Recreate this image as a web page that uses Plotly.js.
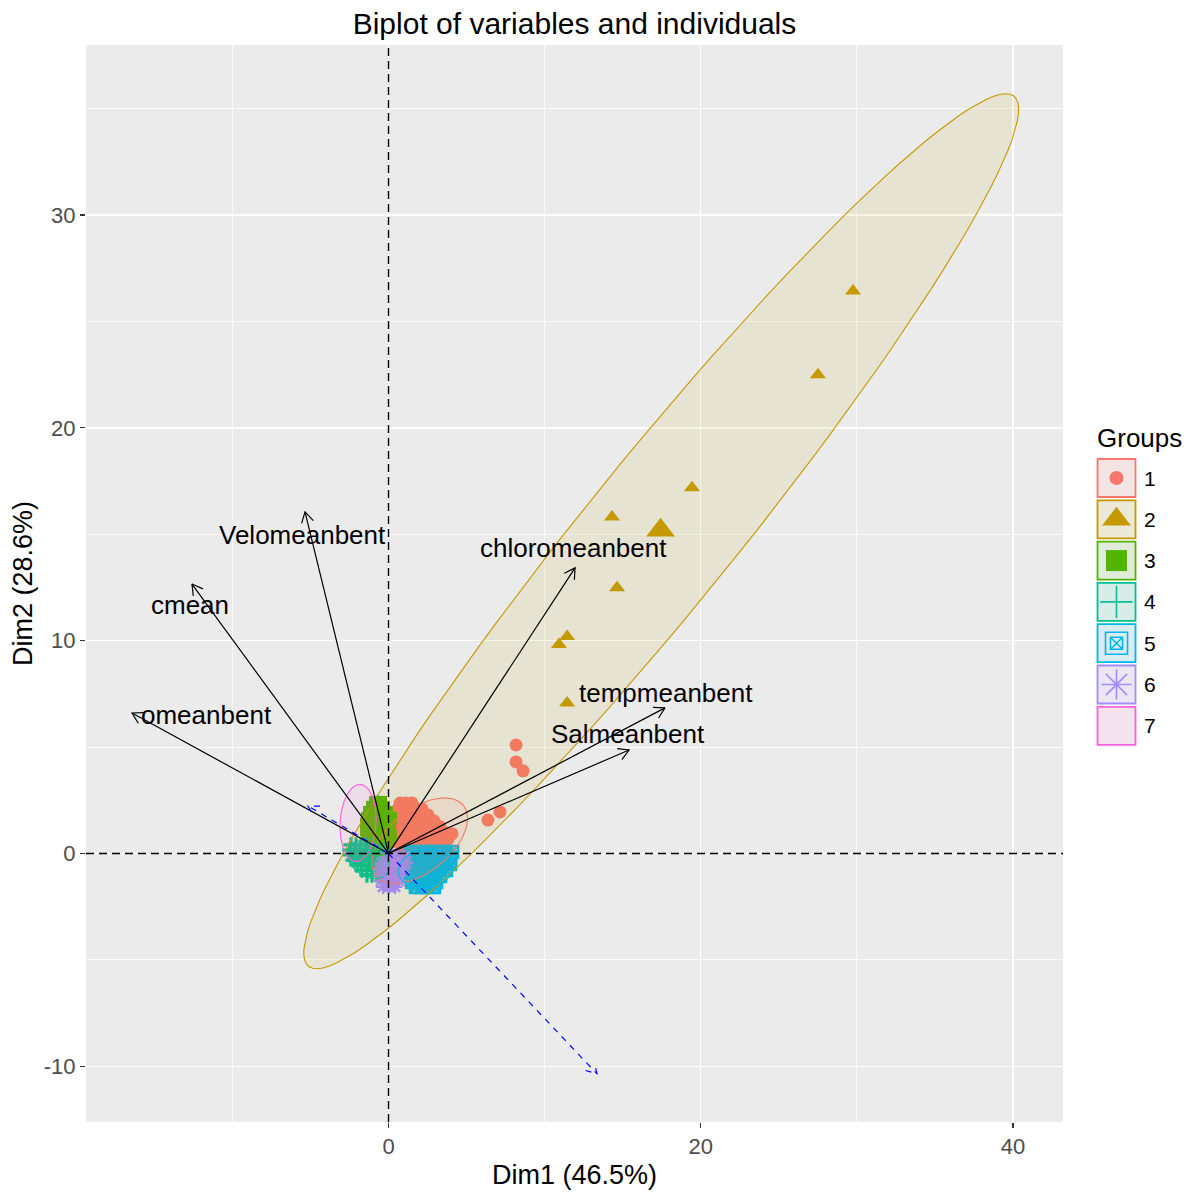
<!DOCTYPE html>
<html>
<head>
<meta charset="utf-8">
<script src="https://cdn.plot.ly/plotly-3.0.1.min.js"></script>
<style>html,body{margin:0;padding:0;background:#ffffff;}</style>
</head>
<body>
<div id="chart" style="width:1192px;height:1196px;"></div>
<script>
// ---- Groups ----
const groups = ['1', '2', '3', '4', '5', '6', '7'];
const groupColors = ['#F8766D', '#C49A00', '#53B400', '#00C094', '#00B6EB', '#A58AFF', '#FB61D7'];

// ---- Individuals (Dim1, Dim2) by group ----
const g1x = [0.74, 1.12, 1.51,
  0.61, 0.99, 1.38, 1.76, 2.15,
  0.61, 0.99, 1.38, 1.76, 2.15, 2.53,
  0.61, 0.99, 1.38, 1.76, 2.15, 2.53, 2.91,
  0.61, 0.99, 1.38, 1.76, 2.15, 2.53, 2.91, 3.30,
  0.61, 0.99, 1.38, 1.76, 2.15, 2.53, 2.91, 3.30, 3.68, 4.07,
  0.74, 1.12, 1.51, 1.89, 2.27, 2.66, 3.04, 3.43, 3.82,
  0.74, 1.12, 1.51, 1.89, 2.27, 2.66,
  0.86, 1.25, 1.63, 2.02,
  6.37, 7.14, 8.17, 8.17, 8.62];
const g1y = [2.37, 2.37, 2.37,
  2.09, 2.09, 2.09, 2.09, 2.09,
  1.81, 1.81, 1.81, 1.81, 1.81, 1.81,
  1.53, 1.53, 1.53, 1.53, 1.53, 1.53, 1.53,
  1.25, 1.25, 1.25, 1.25, 1.25, 1.25, 1.25, 1.25,
  0.96, 0.96, 0.96, 0.96, 0.96, 0.96, 0.96, 0.96, 0.96, 0.92,
  0.68, 0.68, 0.68, 0.68, 0.68, 0.68, 0.68, 0.68, 0.68,
  0.40, 0.40, 0.40, 0.40, 0.40, 0.40,
  0.16, 0.16, 0.16, 0.16,
  1.57, 1.95, 5.10, 4.30, 3.88];

const g2x = [29.76, 27.51, 19.44, 14.32, 14.64, 11.44, 10.92, 11.44];
const g2y = [26.43, 22.49, 17.18, 15.81, 12.48, 10.20, 9.82, 7.07];

const g3x = [-0.86, -0.48,
  -1.06, -0.67, -0.29,
  -1.25, -0.86, -0.48, -0.10,
  -1.38, -0.99, -0.61, -0.22, 0.16,
  -1.44, -1.06, -0.67, -0.29, 0.10,
  -1.44, -1.06, -0.67, -0.29, 0.10,
  -1.38, -0.99, -0.61, -0.22, 0.16,
  -1.19, -0.80, -0.42, -0.03,
  -0.93, -0.54, -0.16];
const g3y = [2.42, 2.42,
  2.19, 2.19, 2.19,
  1.95, 1.95, 1.95, 1.95,
  1.67, 1.67, 1.67, 1.67, 1.67,
  1.39, 1.39, 1.39, 1.39, 1.39,
  1.10, 1.10, 1.10, 1.10, 1.10,
  0.82, 0.82, 0.82, 0.82, 0.82,
  0.54, 0.54, 0.54, 0.54,
  0.31, 0.31, 0.31];

const g4x = [-2.40, -2.08, -1.76, -1.44, -1.12,
  -2.47, -2.15, -1.83, -1.51, -1.19, -0.86, -0.54, -0.22,
  -2.47, -2.15, -1.83, -1.51, -1.19, -0.86, -0.54, -0.22,
  -2.27, -1.95, -1.63, -1.31, -0.99, -0.67, -0.35,
  -2.02, -1.70, -1.38, -1.06, -0.74, -0.42,
  -1.70, -1.38, -1.06, -0.74, -0.42,
  -1.38, -1.06, -0.74, -0.42];
const g4y = [0.40, 0.40, 0.40, 0.40, 0.40,
  0.16, 0.16, 0.16, 0.16, 0.16, 0.16, 0.16, 0.16,
  -0.07, -0.07, -0.07, -0.07, -0.07, -0.07, -0.07, -0.07,
  -0.31, -0.31, -0.31, -0.31, -0.31, -0.31, -0.31,
  -0.54, -0.54, -0.54, -0.54, -0.54, -0.54,
  -0.78, -0.78, -0.78, -0.78, -0.78,
  -1.01, -1.01, -1.01, -1.01];

const g5x = [1.38, 1.76, 2.15, 2.53, 2.91, 3.30, 3.68, 4.07,
  1.25, 1.63, 2.02, 2.40, 2.79, 3.17, 3.56, 3.94,
  1.25, 1.63, 2.02, 2.40, 2.79, 3.17, 3.56, 3.94,
  1.38, 1.76, 2.15, 2.53, 2.91, 3.30, 3.68,
  1.38, 1.76, 2.15, 2.53, 2.91, 3.30,
  1.51, 1.89, 2.27, 2.66, 3.04,
  1.76, 2.15, 2.53, 2.91];
const g5y = [0.07, 0.07, 0.07, 0.07, 0.07, 0.07, 0.07, 0.07,
  -0.21, -0.21, -0.21, -0.21, -0.21, -0.21, -0.21, -0.21,
  -0.49, -0.49, -0.49, -0.49, -0.49, -0.49, -0.49, -0.49,
  -0.78, -0.78, -0.78, -0.78, -0.78, -0.78, -0.78,
  -1.06, -1.06, -1.06, -1.06, -1.06, -1.06,
  -1.34, -1.34, -1.34, -1.34, -1.34,
  -1.57, -1.57, -1.57, -1.57];

const g6x = [-0.16, 0.22, 0.61, 0.99,
  -0.42, -0.03, 0.35, 0.74, 1.12,
  -0.54, -0.16, 0.22, 0.61, 0.99,
  -0.54, -0.16, 0.22, 0.61,
  -0.48, -0.10, 0.29, 0.68,
  -0.35, 0.03, 0.42];
const g6y = [-0.16, -0.16, -0.16, -0.16,
  -0.45, -0.45, -0.45, -0.45, -0.45,
  -0.73, -0.73, -0.73, -0.73, -0.73,
  -1.01, -1.01, -1.01, -1.01,
  -1.29, -1.29, -1.29, -1.29,
  -1.57, -1.57, -1.57];

// Group mean points
const meanX = [1.60, 17.43, -0.70, -1.30, 2.40, 0.25];
const meanY = [1.10, 15.19, 1.30, -0.30, -0.60, -0.80];

// ---- Variables (arrow tips) ----
const varNames = ['omeanbent', 'cmean', 'Velomeanbent', 'chloromeanbent', 'tempmeanbent', 'Salmeanbent'];
const varX = [-16.43, -12.59, -5.35, 11.95, 17.71, 15.41];
const varY = [6.60, 12.66, 16.05, 13.42, 6.84, 4.86];
const labelX = [-11.69, -12.72, -5.54, 11.82, 17.78, 15.34];
const labelY = [6.51, 11.68, 14.97, 14.36, 7.54, 5.62];

// Supplementary variables
const supX = [13.36, -5.16];
const supY = [-10.36, 2.23];

// ---- Confidence ellipses: centre, semi-axes, rotation (deg) ----
const ellCX = [2.00, 17.47, -0.60, -1.30, 2.40, 0.30, -1.95];
const ellCY = [0.60, 15.14, 1.30, -0.30, -0.70, -0.80, 1.43];
const ellA = [3.30, 30.50, 1.40, 1.40, 1.80, 1.00, 1.82];
const ellB = [1.60, 4.10, 0.70, 0.80, 0.90, 0.60, 1.15];
const ellAng = [25, 41.8, 95, -20, 5, 90, 84];

// ---- Axis ticks ----
const xTickVals = [0, 20, 40];
const xTickText = ['0', '20', '40'];
const yTickVals = [-10, 0, 10, 20, 30];
const yTickText = ['-10', '0', '10', '20', '30'];

// ---- Layout geometry ----
const W = 1192, H = 1196;
const mL = 86, mR = 8, mT = 45, mB = 74;
const panelRight = 1063;
const paperW = W - mL - mR;
const paperH = H - mT - mB;
const mainDom = (panelRight - mL) / paperW;
const xRange = [-19.38, 43.21];
const yRange = [-12.62, 37.99];
const sx = (panelRight - mL) / (xRange[1] - xRange[0]);
const sy = paperH / (yRange[1] - yRange[0]);
const FONT = 'Liberation Sans, Arial, sans-serif';

function rgba(hex, a) {
  const n = parseInt(hex.slice(1), 16);
  return `rgba(${(n >> 16) & 255},${(n >> 8) & 255},${n & 255},${a})`;
}

function ellipse(cx, cy, a, b, deg) {
  const t = deg * Math.PI / 180, xs = [], ys = [];
  for (let i = 0; i <= 120; i++) {
    const u = 2 * Math.PI * i / 120;
    const ca = a * Math.cos(u), sb = b * Math.sin(u);
    xs.push(cx + ca * Math.cos(t) - sb * Math.sin(t));
    ys.push(cy + ca * Math.sin(t) + sb * Math.cos(t));
  }
  return [xs, ys];
}

// Open arrowhead drawn in screen space, converted back to data units
function arrow(tx, ty, color, dash, width) {
  const px = tx * sx, py = ty * sy;
  const len = Math.hypot(px, py);
  const vx = -px / len, vy = -py / len;
  const L = 12, ang = Math.PI / 6;
  const wing = s => {
    const c = Math.cos(s * ang), sn = Math.sin(s * ang);
    return [tx + L * (vx * c - vy * sn) / sx, ty + L * (vx * sn + vy * c) / sy];
  };
  const w1 = wing(1), w2 = wing(-1);
  return {
    x: [0, tx, null, w1[0], tx, w2[0]],
    y: [0, ty, null, w1[1], ty, w2[1]],
    mode: 'lines', type: 'scatter', hoverinfo: 'skip', showlegend: false,
    line: {color: color, width: width, dash: dash}
  };
}

const traces = [];

// Individuals
const pts = [[g1x, g1y], [g2x, g2y], [g3x, g3y], [g4x, g4y], [g5x, g5y], [g6x, g6y]];
const symbols = ['circle', 'triangle-up', 'square', 'cross-thin-open', 'square-x-open', 'asterisk-open'];
const ptSize = [13, 14, 12, 11, 12, 12];
const ptLine = [0, 0, 0, 3.2, 2.6, 2.4];
const meanSize = [20, 25, 20, 16, 20, 18];
pts.forEach((p, i) => {
  traces.push({
    x: p[0], y: p[1], type: 'scatter', mode: 'markers', hoverinfo: 'skip', showlegend: false,
    marker: {symbol: symbols[i], size: ptSize[i], color: groupColors[i],
             line: {color: groupColors[i], width: ptLine[i]}}
  });
  traces.push({
    x: [meanX[i]], y: [meanY[i]], type: 'scatter', mode: 'markers', hoverinfo: 'skip', showlegend: false,
    marker: {symbol: symbols[i], size: meanSize[i], color: groupColors[i],
             line: {color: groupColors[i], width: ptLine[i]}}
  });
});

// Ellipses
groups.forEach((g, i) => {
  const e = ellipse(ellCX[i], ellCY[i], ellA[i], ellB[i], ellAng[i]);
  traces.push({
    x: e[0], y: e[1], type: 'scatter', mode: 'lines', fill: 'toself', hoverinfo: 'skip', showlegend: false,
    fillcolor: rgba(groupColors[i], 0.1), line: {color: groupColors[i], width: 1.1}
  });
});

// Variable arrows
varX.forEach((x, i) => traces.push(arrow(x, varY[i], '#000000', 'solid', 1.2)));
supX.forEach((x, i) => traces.push(arrow(x, supY[i], '#0000FF', '6px,6px', 1.2)));

// Legend glyphs (on an overlay axis measured in pixels)
const legX = 1116.5, legTop = 459, legStep = 41.3, keySize = 38;
const legSymbols = [['circle'], ['triangle-up'], ['square'], ['cross-thin-open'], ['square-open', 'square-x-open'], ['asterisk-open'], []];
const legSizes = [[14], [25], [21], [23], [22, 12], [25], []];
legSymbols.forEach((syms, i) => {
  syms.forEach((s, k) => {
    traces.push({
      x: [legX], y: [legTop + i * legStep + keySize / 2], xaxis: 'x2', yaxis: 'y2',
      type: 'scatter', mode: 'markers', hoverinfo: 'skip', showlegend: false,
      marker: {symbol: s, size: legSizes[i][k], color: groupColors[i],
               line: {color: groupColors[i], width: s.endsWith('open') ? 1.6 : 0}}
    });
  });
});

const shapes = [
  // panel background
  {type: 'rect', xref: 'x domain', yref: 'y domain', x0: 0, x1: 1, y0: 0, y1: 1,
   fillcolor: '#EBEBEB', line: {width: 0}, layer: 'below'},
  // reference lines
  {type: 'line', xref: 'x', yref: 'y domain', x0: 0, x1: 0, y0: 0, y1: 1,
   line: {color: '#000000', width: 1.4, dash: '8px,5px'}, layer: 'above'},
  {type: 'line', xref: 'x domain', yref: 'y', x0: 0, x1: 1, y0: 0, y1: 0,
   line: {color: '#000000', width: 1.4, dash: '8px,5px'}, layer: 'above'}
];

const annotations = [];
varNames.forEach((n, i) => annotations.push({
  x: labelX[i], y: labelY[i], xref: 'x', yref: 'y', text: n, showarrow: false,
  xanchor: 'center', yanchor: 'middle', font: {family: FONT, size: 26, color: '#000000'}
}));

// Legend keys and labels
annotations.push({x: 1095, y: 438, xref: 'x2', yref: 'y2', text: 'Groups', showarrow: false,
  xanchor: 'left', yanchor: 'middle', font: {family: FONT, size: 26, color: '#000000'}});
groups.forEach((g, i) => {
  const top = legTop + i * legStep;
  shapes.push({type: 'rect', xref: 'x2', yref: 'y2', x0: legX - keySize / 2, x1: legX + keySize / 2,
    y0: top, y1: top + keySize, fillcolor: '#F2F2F2', line: {width: 0}, layer: 'below'});
  shapes.push({type: 'rect', xref: 'x2', yref: 'y2', x0: legX - keySize / 2, x1: legX + keySize / 2,
    y0: top, y1: top + keySize, fillcolor: rgba(groupColors[i], 0.1),
    line: {color: groupColors[i], width: 1.8}, layer: 'below'});
  annotations.push({x: 1142, y: top + keySize / 2, xref: 'x2', yref: 'y2', text: g, showarrow: false,
    xanchor: 'left', yanchor: 'middle', font: {family: FONT, size: 21, color: '#000000'}});
});

const layout = {
  width: W, height: H,
  margin: {l: mL, r: mR, t: mT, b: mB, pad: 0},
  paper_bgcolor: '#FFFFFF', plot_bgcolor: 'rgba(0,0,0,0)',
  font: {family: FONT},
  showlegend: false,
  title: {text: 'Biplot of variables and individuals', x: mainDom / 2, xref: 'paper', xanchor: 'center',
          y: 1 - 23 / H, yref: 'container', yanchor: 'middle',
          font: {family: FONT, size: 30, color: '#000000'}},
  xaxis: {
    domain: [0, mainDom], range: xRange, tickmode: 'array', tickvals: xTickVals, ticktext: xTickText,
    showgrid: true, gridcolor: '#FFFFFF', gridwidth: 1.4, zeroline: false, showline: false,
    minor: {dtick: 10, tick0: 0, showgrid: true, gridcolor: '#FFFFFF', gridwidth: 0.7},
    ticks: 'outside', ticklen: 5, tickwidth: 1.3, tickcolor: '#333333',
    tickfont: {family: FONT, size: 22, color: '#4D4D4D'},
    title: {text: 'Dim1 (46.5%)', standoff: 6, font: {family: FONT, size: 27, color: '#000000'}},
    automargin: false, fixedrange: true
  },
  yaxis: {
    range: yRange, tickmode: 'array', tickvals: yTickVals, ticktext: yTickText,
    showgrid: true, gridcolor: '#FFFFFF', gridwidth: 1.4, zeroline: false, showline: false,
    minor: {dtick: 5, tick0: 0, showgrid: true, gridcolor: '#FFFFFF', gridwidth: 0.7},
    ticks: 'outside', ticklen: 5, tickwidth: 1.3, tickcolor: '#333333',
    tickfont: {family: FONT, size: 22, color: '#4D4D4D'},
    title: {text: 'Dim2 (28.6%)', standoff: 3, font: {family: FONT, size: 27, color: '#000000'}},
    automargin: false, fixedrange: true
  },
  xaxis2: {domain: [(1088 - mL) / paperW, 1], range: [1088, W - mR], visible: false, anchor: 'y2', fixedrange: true},
  yaxis2: {domain: [0, 1], range: [H - mB, mT], visible: false, anchor: 'x2', fixedrange: true},
  shapes: shapes,
  annotations: annotations
};

Plotly.newPlot('chart', traces, layout, {staticPlot: true, displayModeBar: false});
</script>
</body>
</html>
